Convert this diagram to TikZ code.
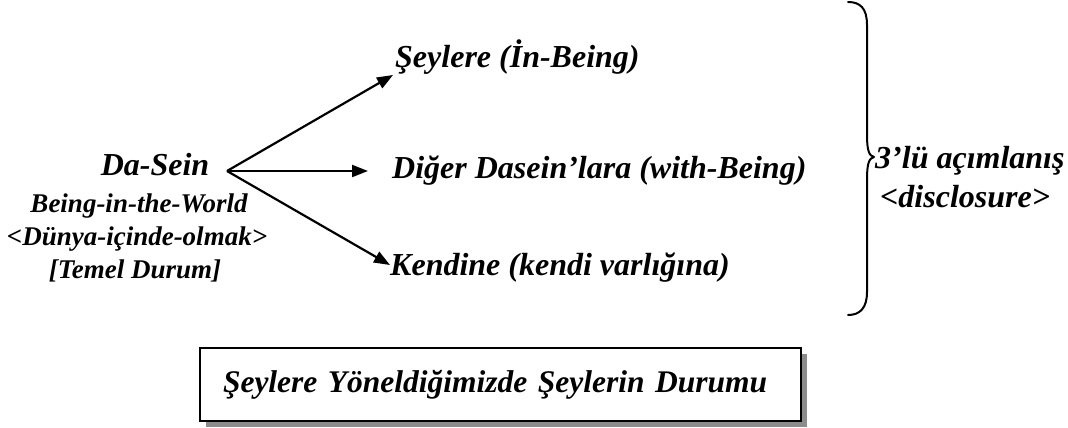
\documentclass[tikz,border=0pt]{standalone}
\usepackage{fontspec}
\setmainfont{Liberation Serif}
\usetikzlibrary{arrows.meta,calc,shadows}
\tikzset{
  big/.style={font=\fontsize{32}{37}\selectfont\bfseries\itshape, inner sep=0pt, anchor=base west},
  sub/.style={font=\fontsize{27}{31}\selectfont\bfseries\itshape, inner sep=0pt, anchor=base},
  arr/.style={line width=2.2pt, -{Triangle[length=16pt,width=12pt]}},
  bracestyle/.style={line width=2pt, line cap=round, line join=round},
  titlebox/.style={draw, line width=2.6pt, fill=white, minimum height=73pt, text width=555pt,
    inner xsep=23pt, inner ysep=0pt, align=left,
    font=\fontsize{31.5}{37}\selectfont\bfseries\itshape,
    drop shadow={shadow xshift=6pt, shadow yshift=-6pt, fill=black!45, opacity=1}}
}
\begin{document}
\begin{tikzpicture}[x=1pt, y=-1pt]
\path[use as bounding box] (0,0) rectangle (1068,428);
% left block
\node[big, anchor=base] (ds) at (155,175) {Da-Sein};
\node[sub] (biw) at (139,212) {Being-in-the-World};
\node[sub] (dio) at (137,245) {<Dünya-içinde-olmak>};
\node[sub] (td) at (135,278) {[Temel Durum]};
\coordinate (o) at (227,171);
% targets
\node[big] (s1) at (395,67) {Şeylere (İn-Being)};
\node[big] (s2) at (392,178) {Diğer Dasein’lara (with-Being)};
\node[big] (s3) at (390,275) {Kendine (kendi varlığına)};
\draw[arr] (o) -- ($(s1.base west)+(-2,8)$);
\draw[arr] (o) -- ($(s2.base west)+(-24,-7)$);
\draw[arr] (o) -- ($(s3.base west)+(0,-10)$);
% brace
\draw[bracestyle] (848,2) .. controls (860,2) and (867,8) .. (867,25) -- (867,135)
  .. controls (867,150) and (869,156) .. (874,157)
  .. controls (869,158) and (867,164) .. (867,179) -- (867,292)
  .. controls (867,308) and (860,315) .. (848,315);
\node[big] (lu) at (875,168) {3’lü açımlanış};
\node[big] (dc) at (880,207) {<disclosure>};
% box
\node[titlebox] (tb) at (500.5,384.5) {Şeylere Yöneldiğimizde Şeylerin Durumu};
\end{tikzpicture}
\end{document}
